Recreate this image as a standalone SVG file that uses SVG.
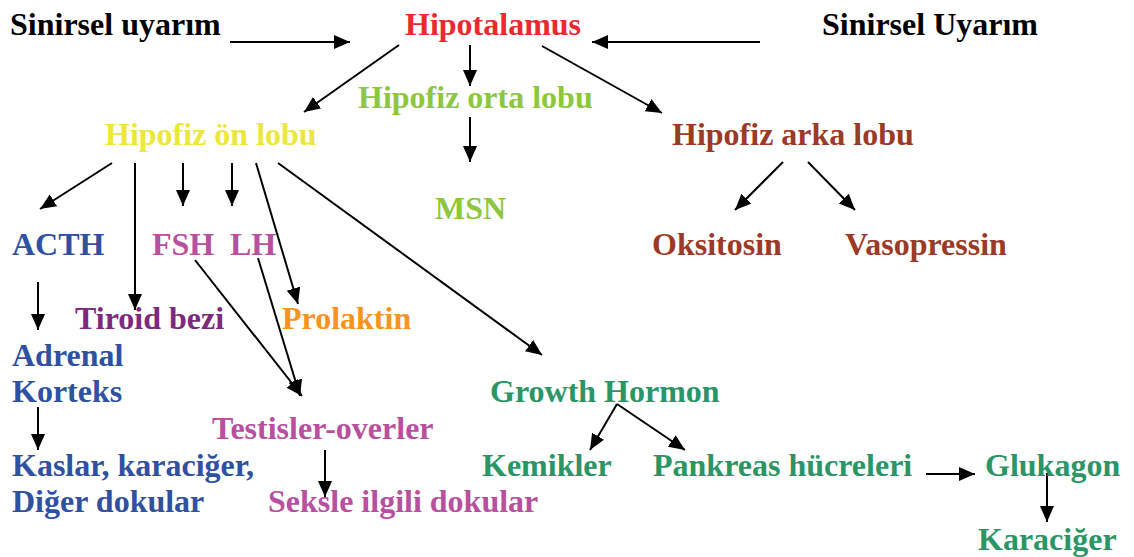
<svg xmlns="http://www.w3.org/2000/svg" width="1134" height="557" viewBox="0 0 1134 557">
<style>
text{font-family:"Liberation Serif","Times New Roman",serif;font-weight:bold;font-size:32px}
.blk{fill:#000}.red{fill:#ec2830}.lg{fill:#8dc63f}.yl{fill:#ebe73c}.br{fill:#9b3a26}
.bl{fill:#3050a0}.pk{fill:#b84f9f}.pu{fill:#7c2a7e}.or{fill:#f7941d}.gr{fill:#2b9566}
#connectors line{stroke:#000;stroke-width:2;marker-end:url(#ah)}
</style>
<defs>
<marker id="ah" markerUnits="userSpaceOnUse" markerWidth="18" markerHeight="16" refX="16" refY="7" orient="auto">
<path d="M0,0 L16,7 L0,14 z" fill="#000"/>
</marker>
</defs>
<rect width="1134" height="557" fill="#fff"/>
<g id="connectors">
<line x1="230" y1="42" x2="350" y2="42"/>
<line x1="760" y1="42" x2="592" y2="42"/>
<line x1="399" y1="45" x2="304" y2="112"/>
<line x1="470" y1="45" x2="470" y2="86"/>
<line x1="542" y1="46" x2="662" y2="113"/>
<line x1="470" y1="117" x2="470" y2="162"/>
<line x1="112" y1="163" x2="40" y2="209"/>
<line x1="135" y1="163" x2="135" y2="310"/>
<line x1="183" y1="163" x2="183" y2="206"/>
<line x1="232" y1="163" x2="232" y2="206"/>
<line x1="256" y1="163" x2="298" y2="304"/>
<line x1="278" y1="163" x2="542" y2="355"/>
<line x1="195" y1="260" x2="302" y2="396"/>
<line x1="258" y1="258" x2="300" y2="396"/>
<line x1="38" y1="282" x2="38" y2="330"/>
<line x1="38" y1="407" x2="38" y2="450"/>
<line x1="325" y1="450" x2="325" y2="497"/>
<line x1="617" y1="404" x2="590" y2="450"/>
<line x1="617" y1="404" x2="685" y2="450"/>
<line x1="926" y1="474" x2="975" y2="474"/>
<line x1="1047" y1="473" x2="1047" y2="522"/>
<line x1="783" y1="162" x2="735" y2="210"/>
<line x1="808" y1="162" x2="855" y2="210"/>
</g>
<g id="sinirsel1"><text class="blk" x="10" y="35">Sinirsel uyarım</text></g>
<g id="hipotalamus"><text class="red" x="405" y="35">Hipotalamus</text></g>
<g id="sinirsel2"><text class="blk" x="822" y="35">Sinirsel Uyarım</text></g>
<g id="orta"><text class="lg" x="358" y="108">Hipofiz orta lobu</text></g>
<g id="on"><text class="yl" x="105" y="145">Hipofiz ön lobu</text></g>
<g id="arka"><text class="br" x="672" y="145">Hipofiz arka lobu</text></g>
<g id="msn"><text class="lg" x="435" y="219">MSN</text></g>
<g id="acth"><text class="bl" x="12" y="255">ACTH</text></g>
<g id="fsh"><text class="pk" x="152" y="255">FSH</text></g>
<g id="lh"><text class="pk" x="230" y="255">LH</text></g>
<g id="oksitosin"><text class="br" x="652" y="255">Oksitosin</text></g>
<g id="vasopressin"><text class="br" x="845" y="255">Vasopressin</text></g>
<g id="tiroid"><text class="pu" x="75" y="329">Tiroid bezi</text></g>
<g id="prolaktin"><text class="or" x="282" y="329">Prolaktin</text></g>
<g id="adrenal"><text class="bl" x="12" y="366">Adrenal</text><text class="bl" x="12" y="402">Korteks</text></g>
<g id="growth"><text class="gr" x="490" y="402">Growth Hormon</text></g>
<g id="testis"><text class="pk" x="212" y="439">Testisler-overler</text></g>
<g id="kaslar"><text class="bl" x="12" y="476">Kaslar, karaciğer,</text><text class="bl" x="12" y="512">Diğer dokular</text></g>
<g id="kemikler"><text class="gr" x="482" y="476">Kemikler</text></g>
<g id="pankreas"><text class="gr" x="653" y="476">Pankreas hücreleri</text></g>
<g id="glukagon"><text class="gr" x="985" y="476">Glukagon</text></g>
<g id="seksle"><text class="pk" x="268" y="512">Seksle ilgili dokular</text></g>
<g id="karaciger"><text class="gr" x="978" y="550">Karaciğer</text></g>
</svg>
